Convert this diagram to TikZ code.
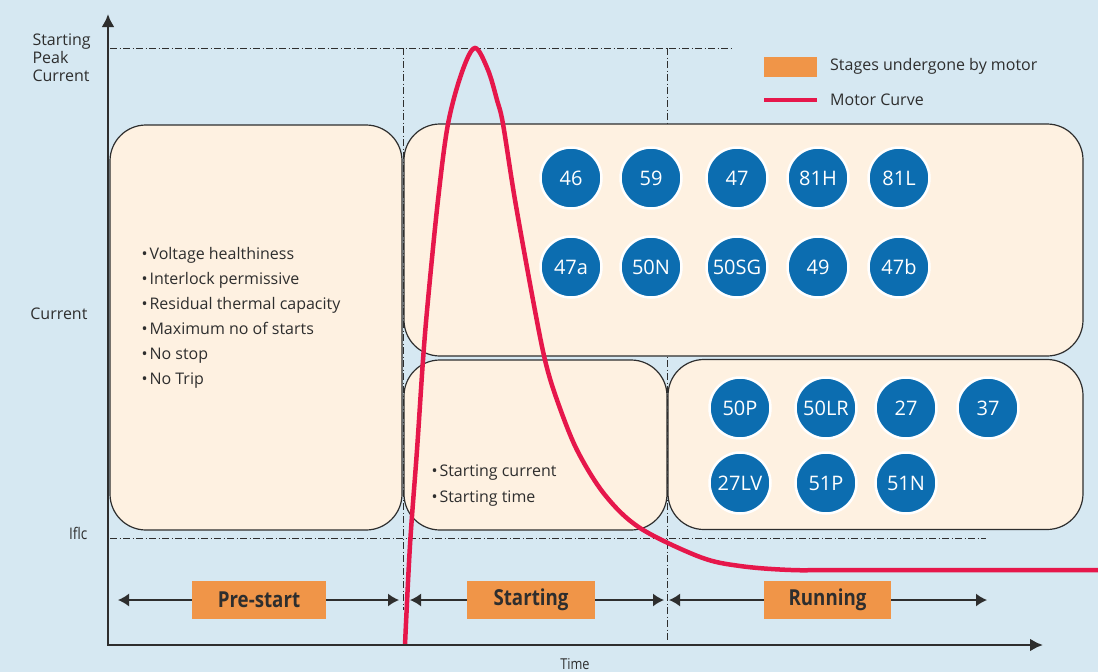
\documentclass[tikz,border=0pt]{standalone}
\usepackage{fontspec}
\setmainfont{Open Sans}
\newfontfamily\condfont[FakeStretch=0.85]{Open Sans}
\usetikzlibrary{arrows.meta}

\definecolor{bgblue}{HTML}{D6E8F2}
\definecolor{cream}{HTML}{FEF1E1}
\definecolor{stageorange}{HTML}{F09548}
\definecolor{relayblue}{HTML}{0C6DB0}
\definecolor{motorred}{HTML}{E6174B}
\definecolor{inkgray}{HTML}{2E2E2E}

\newcommand{\blt}{\textbullet\hspace{2pt}}

\begin{document}
\begin{tikzpicture}[x=1pt,y=-1pt,>={Latex[length=13pt,width=13pt]},
    font=\fontsize{16}{18}\selectfont,text=inkgray]
  \tikzset{stagebox/.style={draw=inkgray,line width=1.2pt,fill=cream,rounded corners=36pt,inner sep=0pt},
    relay/.style={circle,fill=relayblue,draw=white,line width=2.5pt,minimum size=61pt,inner sep=0pt,
      text=white,font=\fontsize{20}{20}\selectfont},
    stagelabel/.style={fill=stageorange,minimum height=38pt,font=\condfont\bfseries\fontsize{22}{22}\selectfont},
    limitline/.style={inkgray,line width=0.9pt,dash pattern=on 7pt off 2.5pt on 1pt off 2.5pt},
    spanarrow/.style={<->,inkgray,line width=1.5pt,>={Latex[length=11pt,width=13pt]}}}
  \fill[bgblue] (0,0) rectangle (1098,672);
  \useasboundingbox (0,0) rectangle (1098,672);

  % limits of the stages
  \draw[limitline] (110,48) -- (732,48);
  \draw[limitline] (403,48) -- (403,610);
  \draw[limitline] (667,48) -- (667,640);
  \draw[limitline] (110,538) -- (986,538);

  % stage boxes
  \node[stagebox,minimum width=292pt,minimum height=405pt] (prebox) at (256,327.5) {};
  \node[stagebox,minimum width=679pt,minimum height=232pt] (protbox) at (743.5,240) {};
  \node[stagebox,minimum width=263pt,minimum height=170pt] (startbox) at (535.5,445) {};
  \node[stagebox,minimum width=415pt,minimum height=170pt] (runbox) at (875.5,444.5) {};

  \node[anchor=west,align=left,font=\fontsize{16}{25}\selectfont] (prelist) at (138,317.5)
    {\blt Voltage healthiness\\ \blt Interlock permissive\\ \blt Residual thermal capacity\\
     \blt Maximum no of starts\\ \blt No stop\\ \blt No Trip};
  \node[anchor=west,align=left,font=\fontsize{16}{26}\selectfont] (startlist) at (428,486)
    {\blt Starting current\\ \blt Starting time};

  % relays
  \foreach \lbl/\x/\y in {46/571/178,59/651/178,47/737/178,81H/818/178,81L/899/178,
      47a/571/267,50N/651/267,50SG/737/267,49/818/267,47b/899/267,
      50P/740/408,50LR/826/408,27/906/408,37/988/408,
      27LV/740/483,51P/826/483,51N/906/483}
    \node[relay] (r\lbl) at (\x,\y) {\lbl};

  % motor curve
  \draw[motorred,line width=4.5pt] plot[smooth,tension=0.55] coordinates {(405,645) (410,545)
    (417,450) (423,360) (428,300) (438,200) (448,124) (462,72) (475,48) (488,70) (497,100) (503,124)
    (515,200) (533,300) (545,360) (557,400) (577,450) (605,495) (640,528) (700,557) (740,566)
    (791,570) (850,570) (1098,570)};

  % axes
  \coordinate (ytip) at (108,14);
  \coordinate (xtip) at (1043,645);
  \draw[<->,inkgray,line width=2.8pt] (ytip) |- (xtip);
  \node[anchor=west,align=left] (peaklbl) at (29,58) {Starting\\Peak\\Current};
  \node[anchor=east] (curlbl) at (91,314) {Current};
  \node[anchor=east,font=\condfont\fontsize{16}{18}\selectfont] (iflclbl) at (91,533) {Iflc};
  \node[anchor=base,inner sep=0pt,font=\condfont\fontsize{15}{18}\selectfont] (timelbl) at (575,669) {Time};

  % stages
  \coordinate (preL) at (118,600);   \coordinate (preR) at (399,600);
  \coordinate (startL) at (410,600); \coordinate (startR) at (664,600);
  \coordinate (runL) at (669,600);   \coordinate (runR) at (987,600);
  \draw[spanarrow] (preL) -- (preR);
  \draw[spanarrow] (startL) -- (startR);
  \draw[spanarrow] (runL) -- (runR);
  \node[stagelabel,minimum width=134pt] (prestage) at (259,600) {Pre-start};
  \node[stagelabel,minimum width=128pt] (startstage) at (531,600) {Starting};
  \node[stagelabel,minimum width=127pt] (runstage) at (827.5,600) {Running};

  % legend
  \node[fill=stageorange,minimum width=53pt,minimum height=20pt,inner sep=0pt] (legbox) at (790.5,67) {};
  \node[anchor=west,inner sep=0pt] (legboxtxt) at (830,66) {Stages undergone by motor};
  \coordinate (legL) at (764,100);
  \coordinate (legR) at (817,100);
  \draw[motorred,line width=4pt] (legL) -- (legR);
  \node[anchor=west,inner sep=0pt] (legcurvetxt) at (830,100) {Motor Curve};
\end{tikzpicture}
\end{document}
